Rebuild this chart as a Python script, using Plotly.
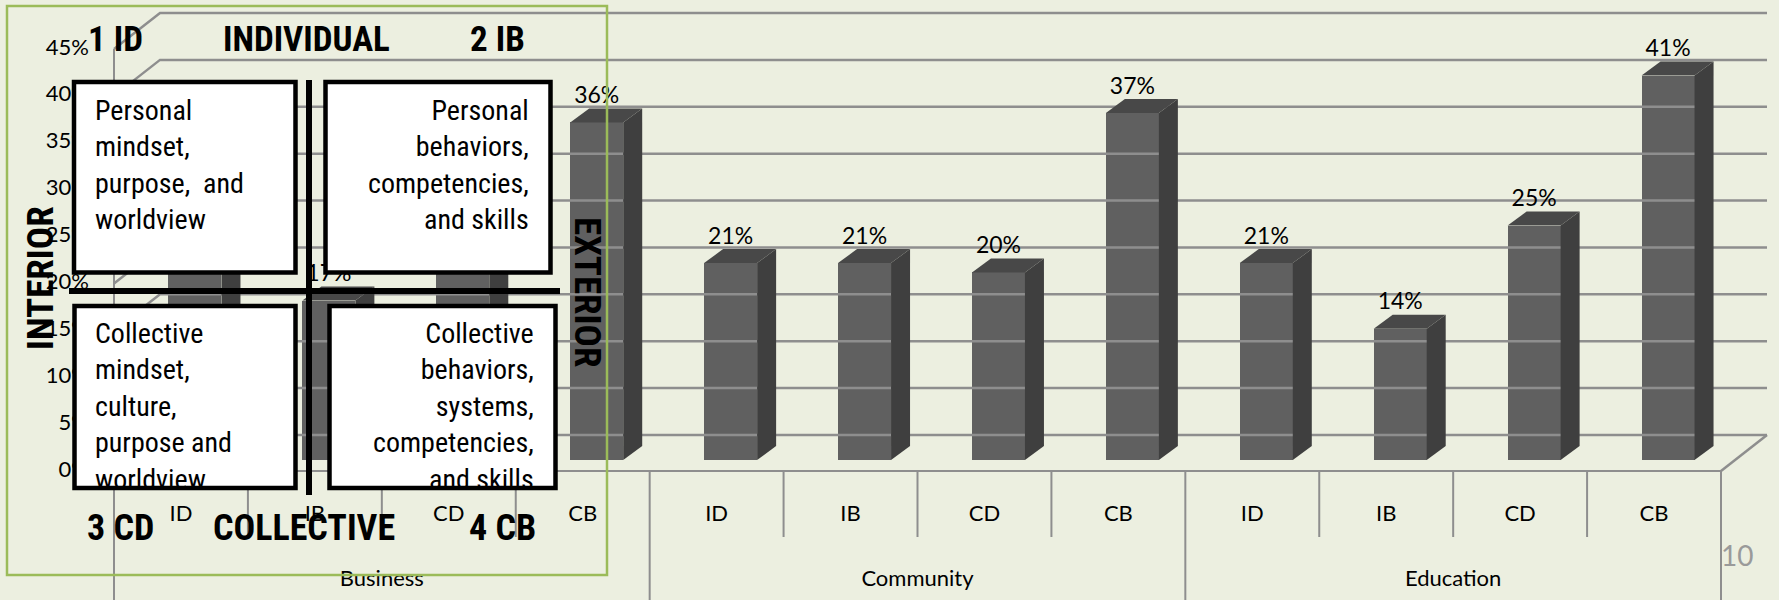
import plotly.graph_objects as go

# ---------------- data ----------------
categories = ["ID", "IB", "CD", "CB"]
groups = ["Business", "Community", "Education"]
business = [22, 17, 21, 36]
community = [21, 21, 20, 37]
education = [21, 14, 25, 41]
y_ticks = [0, 5, 10, 15, 20, 25, 30, 35, 40, 45]
y_tick_labels = [f"{t}%" for t in y_ticks]
page_number = "10"

# ---------------- geometry (pixels) ----------------
W, H = 1779, 600
X_LEFT_PX, X_RIGHT_PX = 114, 1721      # front plane category span
Y0_PX, Y45_PX = 471, 49                 # front plane 0% and 45%
n_cat = len(categories) * len(groups)
PPC = (X_RIGHT_PX - X_LEFT_PX) / n_cat   # px per category
PPP = (Y0_PX - Y45_PX) / 45.0            # px per percent
x_range = [-0.5 - X_LEFT_PX / PPC, -0.5 + (W - X_LEFT_PX) / PPC]
y_range = [-(H - Y0_PX) / PPP, Y0_PX / PPP]


def dxp(px):
    return px / PPC


def dyp(px):
    return px / PPP


BG = "#ECEFE0"
GRID = "#8E8E8E"
FRONT, SIDE, TOP = "#606060", "#3F3F3F", "#484848"
FONT = "Lato, Carlito, 'Open Sans', sans-serif"
NARROW = "'Roboto Condensed', 'Liberation Sans Narrow', 'Arial Narrow', Roboto, sans-serif"

values = business + community + education
xs = list(range(n_cat))
cat_labels = categories * len(groups)
x_lo, x_hi = -0.5, n_cat - 0.5

fig = go.Figure()

# ---------------- walls / grid ----------------
wall_dx, wall_dy = dxp(46), dyp(36)
gx, gy = [], []
for t in y_ticks:
    gx += [x_lo, x_lo + wall_dx, x_hi + wall_dx, None]
    gy += [t, t + wall_dy, t + wall_dy, None]
# floor right edge
gx += [x_hi, x_hi + wall_dx, None]
gy += [0, wall_dy, None]
fig.add_trace(go.Scatter(x=gx, y=gy, mode="lines", line=dict(color=GRID, width=2.5),
                         hoverinfo="skip"))

# front axis lines and dividers
ax_x, ax_y = [], []
ax_x += [x_lo, x_hi, None]
ax_y += [0, 0, None]
ax_x += [x_lo, x_lo, None]
ax_y += [y_ticks[-1], y_range[0], None]
n_per = len(categories)
for g in range(len(groups)):
    for k in range(1, n_per):
        xv = g * n_per + k - 0.5
        ax_x += [xv, xv, None]
        ax_y += [0, -dyp(66), None]
    xv = (g + 1) * n_per - 0.5
    ax_x += [xv, xv, None]
    ax_y += [0, y_range[0], None]
fig.add_trace(go.Scatter(x=ax_x, y=ax_y, mode="lines", line=dict(color=GRID, width=2),
                         hoverinfo="skip"))

# ---------------- 3D bars ----------------
bar_dx, bar_dy = dxp(14), dyp(11)
bw = dxp(53)
depth_dx, depth_dy = dxp(19), dyp(14)

fig.add_trace(go.Bar(x=[i + bar_dx for i in xs], y=values, base=bar_dy, width=bw,
                     marker=dict(color=FRONT, line=dict(width=0)), hoverinfo="skip"))

for i, v in zip(xs, values):
    xl = i + bar_dx - bw / 2
    xr = i + bar_dx + bw / 2
    top = v + bar_dy
    fig.add_trace(go.Scatter(
        x=[xr, xr + depth_dx, xr + depth_dx, xr, xr],
        y=[bar_dy, bar_dy + depth_dy, top + depth_dy, top, bar_dy],
        mode="lines", fill="toself", fillcolor=SIDE, line=dict(width=0, color=SIDE),
        hoverinfo="skip"))
    fig.add_trace(go.Scatter(
        x=[xl, xl + depth_dx, xr + depth_dx, xr, xl],
        y=[top, top + depth_dy, top + depth_dy, top, top],
        mode="lines", fill="toself", fillcolor=TOP, line=dict(width=0, color=TOP),
        hoverinfo="skip"))

# data labels
fig.add_trace(go.Scatter(
    x=[i + bar_dx for i in xs], y=[v + bar_dy + depth_dy + dyp(11) for v in values],
    mode="text", text=[f"{v}%" for v in values], textposition="middle center",
    textfont=dict(family=FONT, size=23, color="black"), hoverinfo="skip"))

# y tick labels (front plane)
fig.add_trace(go.Scatter(
    x=[x_lo - dxp(25)] * len(y_ticks), y=y_ticks, mode="text", text=y_tick_labels,
    textposition="middle left", textfont=dict(family=FONT, size=22, color="black"),
    hoverinfo="skip"))

# category labels
fig.add_trace(go.Scatter(
    x=xs, y=[-dyp(44)] * n_cat, mode="text", text=cat_labels, textposition="middle center",
    textfont=dict(family=FONT, size=22, color="black"), hoverinfo="skip"))

# group labels
fig.add_trace(go.Scatter(
    x=[g * n_per + (n_per - 1) / 2 for g in range(len(groups))], y=[-dyp(109)] * len(groups),
    mode="text", text=groups, textposition="middle center",
    textfont=dict(family=FONT, size=22, color="black"), hoverinfo="skip"))


# ---------------- quadrant overlay ----------------
def px(x):
    return x / W


def py(y):
    return 1 - y / H


shapes = []
shapes.append(dict(type="rect", xref="paper", yref="paper", x0=px(7), x1=px(607),
                   y0=py(6), y1=py(575), line=dict(color="#9BBB59", width=2.5),
                   fillcolor="rgba(0,0,0,0)"))
boxes = [(74, 82, 295.5, 272.5), (325.5, 82, 550.5, 272.5),
         (74.5, 306, 295.5, 488), (329.5, 306, 555.5, 488)]
for x0, y0, x1, y1 in boxes:
    shapes.append(dict(type="rect", xref="paper", yref="paper", x0=px(x0), x1=px(x1),
                       y0=py(y0), y1=py(y1), line=dict(color="black", width=4.5),
                       fillcolor="white"))
shapes.append(dict(type="line", xref="paper", yref="paper", x0=px(309), x1=px(309),
                   y0=py(80), y1=py(495), line=dict(color="black", width=6)))
shapes.append(dict(type="line", xref="paper", yref="paper", x0=px(69), x1=px(560),
                   y0=py(291), y1=py(291), line=dict(color="black", width=6)))

annotations = []


def ann(text, x, y, size, xanchor="center", align="center", angle=0, bold=False,
        family=NARROW, color="black"):
    annotations.append(dict(
        text=f"<b>{text}</b>" if bold else text, x=px(x), y=py(y), xref="paper", yref="paper",
        xanchor=xanchor, yanchor="middle", align=align, textangle=angle, showarrow=False,
        font=dict(family=family, size=size, color=color)))


ann("1 ID", 116, 40, 35, bold=True)
ann("INDIVIDUAL", 306, 40, 35, bold=True)
ann("2 IB", 498, 40, 35, bold=True)
ann("3 CD", 120, 528, 36, bold=True)
ann("COLLECTIVE", 304, 528, 36, bold=True)
ann("4 CB", 502, 528, 36, bold=True)
ann("INTERIOR", 40, 278, 37, angle=-90, bold=True)
ann("EXTERIOR", 588, 292, 37, angle=90, bold=True)

ann("Personal<br>mindset,<br>purpose,  and<br>worldview", 93, 165, 28,
    xanchor="left", align="left")
ann("Personal<br>behaviors,<br>competencies,<br>and skills", 531, 165, 28,
    xanchor="right", align="right")
ann("Collective<br>mindset,<br>culture,<br>purpose and<br>worldview", 93, 406, 28,
    xanchor="left", align="left")
ann("Collective<br>behaviors,<br>systems,<br>competencies,<br>and skills", 536, 406, 28,
    xanchor="right", align="right")

ann(page_number, 1737, 555, 28, family=FONT, color="#9A9A9A")

fig.update_layout(
    width=W, height=H, margin=dict(l=0, r=0, t=0, b=0, pad=0),
    paper_bgcolor=BG, plot_bgcolor=BG, showlegend=False,
    xaxis=dict(range=x_range, domain=[0, 1], visible=False, fixedrange=True),
    yaxis=dict(range=y_range, domain=[0, 1], visible=False, fixedrange=True),
    shapes=shapes, annotations=annotations, bargap=0,
)

fig.write_html("out.html")
